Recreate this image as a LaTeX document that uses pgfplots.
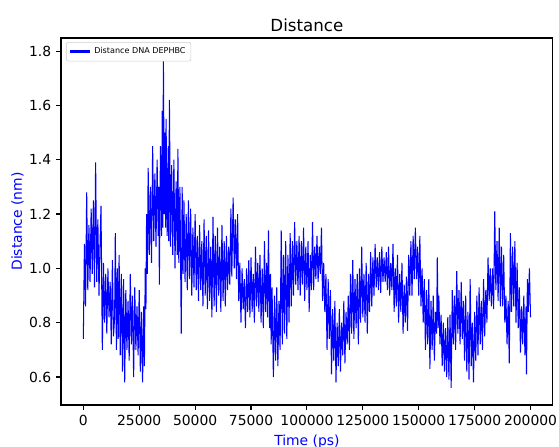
\documentclass[border=0pt]{standalone}
\usepackage{fontspec}
\setmainfont{DejaVu Sans}
\usepackage{pgfplots}
\pgfplotsset{compat=1.18}
\begin{document}
\begin{tikzpicture}
\useasboundingbox (0,0) rectangle (402.5pt,321.8pt);
\begin{axis}[
  at={(43.9pt,30.2pt)}, anchor=south west,
  scale only axis, width=354.2pt, height=264.2pt,
  xmin=-10000, xmax=210000, ymin=0.497, ymax=1.848,
  xtick={0,25000,50000,75000,100000,125000,150000,175000,200000},
  xticklabels={0,25000,50000,75000,100000,125000,150000,175000,200000},
  ytick={0.6,0.8,1.0,1.2,1.4,1.6,1.8},
  yticklabels={0.6,0.8,1.0,1.2,1.4,1.6,1.8},
  scaled x ticks=false, scaled y ticks=false,
  tick label style={font=\fontsize{10}{12}\selectfont},
  tick align=outside, xtick pos=lower, ytick pos=left,
  major tick length=3.5pt,
  every tick/.style={black, line width=0.8pt},
  axis line style={line width=0.8pt},
  title={Distance},
  title style={font=\fontsize{12}{14}\selectfont, yshift=-5pt},
  xlabel={Time (ps)}, ylabel={Distance (nm)},
  label style={font=\fontsize{10}{12}\selectfont, text=blue},
  ylabel style={yshift=-3pt},
  legend style={at={(axis description cs:0,1)}, anchor=north west, xshift=3.6pt, yshift=-2.9pt,
    font=\fontsize{5.8}{6.8}\selectfont, draw=black!20, rounded corners=1.5pt, inner sep=1.8pt},
  legend cell align=left,
]
\addplot[color=blue, line width=0.75pt, line join=bevel,
  legend image code/.code={\draw[blue, line width=2.4pt] (0pt,0pt) -- (14pt,0pt);}]
table[x expr=\thisrowno{0}*1000, y index=1] {
t v
0 0.74
0.5 1.09
1 0.86
1.5 1.28
2 0.92
2.5 1.16
3 0.95
3.5 1.22
4 0.98
4.5 1.25
5 0.93
5.5 1.39
6 0.95
6.5 1.18
7 0.90
7.5 1.10
7.9 1.23
8.5 0.70
9 1.02
9.5 0.80
10 0.98
10.5 0.76
11 1.00
11.5 0.82
12 0.95
12.5 0.72
13 1.03
13.5 0.75
14 0.82
14.3 1.13
14.8 0.70
15.2 1.00
15.6 0.74
16 1.05
16.5 0.68
17 0.98
17.5 0.62
18 0.96
18.5 0.58
19 0.92
19.5 0.70
20 0.88
20.5 0.66
21 0.98
21.5 0.72
22 0.90
22.5 0.60
23 0.93
23.5 0.70
24 0.86
24.5 0.68
25 0.92
25.5 0.62
26 0.84
26.5 0.58
27 0.86
27.3 0.64
27.7 1.00
28 0.85
28.3 1.20
28.6 0.98
29 1.37
29.5 1.05
30 1.30
30.5 1.02
31 1.45
31.5 1.10
32 1.35
32.5 1.08
33 1.40
33.5 1.12
33.8 1.30
34 0.94
34.5 1.45
35 1.12
35.3 1.58
35.6 1.15
35.8 1.79
36.2 1.20
36.5 1.50
36.8 1.15
37 1.55
37.5 1.12
38 1.45
38.2 1.10
38.5 1.62
39 1.08
39.5 1.38
40 1.05
40.5 1.40
41 1.00
41.5 1.32
42 1.05
42.3 1.44
42.7 1.02
43.2 1.30
43.8 0.76
44.2 1.30
44.6 0.98
45 1.25
45.5 0.95
46 1.20
46.5 0.92
47 1.25
47.5 0.96
48 1.22
48.5 0.90
49 1.15
49.5 0.93
50 1.20
50.5 0.92
51 1.12
51.5 0.88
52 1.16
52.5 0.92
53 1.10
53.5 0.86
54 1.18
54.5 0.90
55 1.12
55.5 0.85
56 1.14
56.5 0.88
57 1.08
57.5 0.82
58 1.19
58.5 0.86
59 1.12
59.5 0.84
60 1.15
60.5 0.90
61 1.08
61.5 0.84
62 1.16
62.5 0.88
63 1.10
63.5 0.86
64 1.12
64.5 0.92
65 1.08
65.5 0.94
66 1.22
66.4 0.97
67 1.26
67.5 1.00
68 1.18
68.5 0.96
69 1.20
69.5 0.88
70 1.02
70.5 0.80
71 1.00
71.5 0.85
72 0.96
72.5 0.78
73 1.00
73.5 0.84
74 1.03
74.5 0.82
75 1.04
75.5 0.84
76 0.98
76.5 0.80
77 1.08
77.5 0.86
78 1.02
78.5 0.84
79 1.05
79.5 0.80
80 1.00
80.5 0.78
81 1.10
81.5 0.84
82 1.02
82.4 0.82
82.8 1.14
83.3 0.78
83.7 0.98
84 0.72
84.4 0.93
85 0.60
85.5 0.90
86 0.66
86.5 0.93
87 0.64
87.5 0.88
88 0.70
88.5 1.14
89 0.72
89.5 1.05
90 0.76
90.5 1.10
91 0.74
91.5 1.05
92 0.80
92.5 1.13
93 0.86
93.5 1.10
94 0.90
94.5 1.17
95 0.94
95.5 1.10
96 0.92
96.5 1.12
97 0.90
97.5 1.10
98 0.94
98.5 1.15
99 0.88
99.5 1.08
100 0.92
100.5 1.10
101 0.84
101.5 1.05
102 0.92
102.5 1.17
103 0.92
103.5 1.08
104 0.96
104.5 1.12
105 0.95
105.5 1.08
106 0.98
106.5 1.15
107 0.88
107.5 1.02
108 0.84
108.5 0.98
109 0.70
109.5 0.96
110 0.74
110.5 0.92
111 0.61
111.5 0.85
112 0.66
112.5 0.88
113 0.58
113.5 0.80
114 0.64
114.5 0.85
115 0.62
115.5 0.80
116 0.68
116.5 0.88
117 0.65
117.5 0.84
118 0.72
118.5 0.90
119 0.70
119.5 0.98
120 0.76
120.5 1.03
121 0.74
121.5 0.96
122 0.78
122.5 0.98
123 0.72
123.5 1.00
124 0.80
124.5 1.08
125 0.82
125.5 0.98
126 0.80
126.5 1.02
127 0.76
127.5 0.98
128 0.84
128.5 1.06
129 0.86
129.5 1.04
130 0.90
130.5 1.09
131 0.93
131.5 1.04
132 0.92
132.5 1.06
133 0.91
133.5 1.08
134 0.95
134.5 1.04
135 0.95
135.5 1.06
136 0.92
136.5 1.08
137 0.90
137.5 1.02
138 0.92
138.5 1.09
139 0.84
139.5 1.00
140 0.86
140.5 1.05
141 0.80
141.5 0.98
142 0.84
142.5 1.02
143 0.76
143.5 0.94
144 0.80
144.5 0.97
145 0.77
145.5 1.05
146 0.90
146.5 1.10
147 0.90
147.5 1.12
148 0.96
148.5 1.15
149 0.96
149.5 1.08
150 0.90
150.5 1.12
151 0.86
151.5 1.00
152 0.80
152.5 0.96
153 0.70
153.5 0.92
154 0.72
154.5 0.96
155 0.63
155.5 0.88
156 0.70
156.5 0.90
157 0.66
157.5 0.84
158 0.76
158.3 1.04
158.7 0.78
159 0.90
159.5 0.72
160 0.83
160.5 0.64
161 0.80
161.5 0.62
162 0.78
162.5 0.60
163 0.82
163.5 0.59
164 0.83
164.5 0.56
165 0.92
165.5 0.72
166 0.90
166.5 0.70
167 0.99
167.5 0.76
168 0.92
168.5 0.72
169 0.95
169.5 0.74
170 0.88
170.5 0.66
171 0.90
171.5 0.62
172 0.84
172.5 0.59
173 0.96
173.5 0.64
174 0.80
174.5 0.58
175 0.84
175.5 0.66
176 0.90
176.5 0.68
177 0.93
177.5 0.72
178 0.88
178.5 0.70
179 0.96
179.5 0.75
180 0.92
180.5 0.80
181 1.04
181.5 0.88
182 1.00
182.5 0.86
183 1.00
183.5 0.85
184 1.21
184.5 0.92
185 1.10
185.5 0.88
186 1.15
186.5 0.86
187 1.08
187.5 0.86
188 1.05
188.5 0.80
189 0.90
189.5 0.72
190 0.88
190.5 0.65
191 1.13
191.5 0.84
192 1.08
192.5 0.86
193 1.10
193.5 0.80
194 1.02
194.5 0.78
195 0.93
195.5 0.69
196 0.86
196.5 0.72
197 0.90
197.5 0.68
198 0.86
198.2 0.61
198.6 0.96
199 0.84
199.5 1.00
200 0.82
};
\addlegendentry{Distance DNA DEPHBC}
\end{axis}
\end{tikzpicture}
\end{document}
